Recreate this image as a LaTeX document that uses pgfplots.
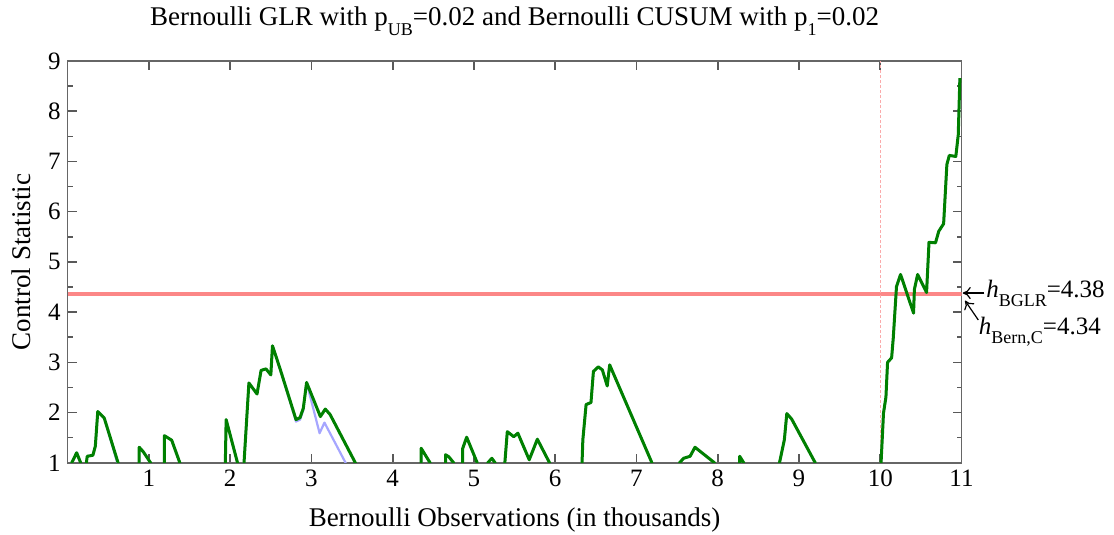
\documentclass[border=0pt]{standalone}
\usepackage{fontspec}
\setmainfont{Liberation Serif}
\usepackage{pgfplots}
\usepackage{pgfplotstable}
\pgfplotsset{compat=1.18}
\usetikzlibrary{arrows.meta}

\definecolor{limitred}{RGB}{252,135,135}
\definecolor{changepink}{RGB}{250,170,170}

% lowered subscript in text
\newcommand{\lowsub}[2][4.5pt]{\raisebox{-#1}{\fontsize{9}{10}\selectfont #2}}

% control statistics (x in thousands of observations)
\pgfplotstableread{
x y
0.00 0
0.05 0
0.05 1
0.11 1.20
0.16 1
0.16 0
0.23 0
0.23 1
0.24 1.13
0.31 1.15
0.34 1.33
0.37 2.02
0.45 1.89
0.62 1
0.62 0
0.88 0
0.88 1
0.88 1.31
0.93 1.22
1.02 1
1.02 0
1.19 0
1.19 1
1.19 1.54
1.28 1.45
1.38 1
1.38 0
1.94 0
1.94 1
1.95 1.86
2.09 1
2.09 0
2.17 0
2.17 1
2.23 2.59
2.33 2.37
2.38 2.84
2.44 2.87
2.50 2.75
2.52 3.33
2.61 2.89
2.81 1.86
2.86 1.90
2.90 2.09
2.94 2.60
3.11 1.92
3.17 2.07
3.23 1.96
3.54 1
3.54 0
4.35 0
4.35 1
4.35 1.29
4.46 1
4.46 0
4.65 0
4.65 1
4.65 1.16
4.69 1.12
4.75 1
4.75 0
4.86 0
4.86 1
4.86 1.28
4.91 1.51
5.04 1
5.04 0
5.17 0
5.17 1
5.22 1.09
5.26 1
5.26 0
5.38 0
5.38 1
5.41 1.62
5.49 1.52
5.54 1.59
5.68 1.06
5.78 1.47
5.93 1
5.93 0
6.33 0
6.33 1
6.34 1.46
6.38 2.16
6.44 2.20
6.47 2.82
6.53 2.91
6.58 2.85
6.64 2.53
6.67 2.95
7.19 1
7.19 0
7.53 0
7.53 1
7.58 1.09
7.66 1.13
7.72 1.31
7.96 1
7.96 0
8.27 0
8.27 1
8.27 1.13
8.32 1
8.32 0
8.76 0
8.76 1
8.82 1.46
8.85 1.98
8.91 1.87
9.20 1
9.20 0
10.01 0
10.01 1
10.04 1.99
10.07 2.31
10.09 3.00
10.14 3.09
10.16 3.48
10.20 4.51
10.25 4.75
10.41 3.98
10.42 4.45
10.46 4.75
10.57 4.39
10.60 5.39
10.68 5.38
10.72 5.61
10.78 5.76
10.82 6.94
10.85 7.12
10.93 7.10
10.96 7.53
10.98 8.66
}\glrstat

\pgfplotstableread{
x y
0.00 0
0.05 0
0.05 1
0.11 1.20
0.16 1
0.16 0
0.23 0
0.23 1
0.24 1.13
0.31 1.15
0.34 1.33
0.37 2.02
0.45 1.89
0.61 1
0.61 0
0.88 0
0.88 1
0.88 1.31
0.93 1.22
1.02 1
1.02 0
1.19 0
1.19 1
1.19 1.54
1.28 1.45
1.38 1
1.38 0
1.94 0
1.94 1
1.95 1.86
2.09 1
2.09 0
2.17 0
2.17 1
2.23 2.59
2.33 2.37
2.38 2.84
2.44 2.87
2.50 2.75
2.52 3.33
2.61 2.89
2.81 1.82
2.86 1.86
2.90 2.05
2.94 2.60
3.10 1.59
3.16 1.80
3.42 1
3.42 0
4.35 0
4.35 1
4.35 1.29
4.46 1
4.46 0
4.65 0
4.65 1
4.65 1.16
4.69 1.12
4.75 1
4.75 0
4.86 0
4.86 1
4.86 1.28
4.91 1.51
5.04 1
5.04 0
5.17 0
5.17 1
5.22 1.09
5.26 1
5.26 0
5.38 0
5.38 1
5.41 1.62
5.49 1.52
5.54 1.59
5.68 1.06
5.78 1.47
5.93 1
5.93 0
6.33 0
6.33 1
6.34 1.46
6.38 2.16
6.44 2.20
6.47 2.82
6.53 2.91
6.58 2.85
6.64 2.53
6.67 2.95
7.19 1
7.19 0
7.53 0
7.53 1
7.58 1.09
7.66 1.13
7.72 1.31
7.96 1
7.96 0
8.27 0
8.27 1
8.27 1.13
8.32 1
8.32 0
8.76 0
8.76 1
8.82 1.46
8.85 1.98
8.91 1.87
9.20 1
9.20 0
10.01 0
10.01 1
10.04 1.99
10.07 2.31
10.09 3.00
10.14 3.09
10.16 3.48
10.20 4.51
10.25 4.75
10.41 3.98
10.42 4.45
10.46 4.75
10.57 4.39
10.60 5.39
10.68 5.38
10.72 5.61
10.78 5.76
10.82 6.94
10.85 7.12
10.93 7.10
10.96 7.53
10.98 8.66
}\cusumstat

\begin{document}
\begin{tikzpicture}
\path[use as bounding box] (-33.85pt,-36.1pt) rectangle (523.15pt,231.4pt);
\begin{axis}[
  scale only axis,
  width=446.9pt, height=200.9pt,
  xmin=0, xmax=11, ymin=1, ymax=9,
  xtick={1,...,11}, ytick={1,...,9},
  minor y tick num=1,
  tick align=inside,
  xtick pos=both, ytick pos=both,
  major tick length=4.5pt, minor tick length=2.5pt,
  axis line style={black!60, line width=0.8pt},
  every tick/.style={black!65, line width=0.8pt},
  /pgf/number format/assume math mode=true,
  ticklabel style={font=\fontsize{12.5}{15}\selectfont},
  label style={font=\fontsize{13.5}{16}\selectfont},
  title style={font=\fontsize{13.5}{16}\selectfont, at={(rel axis cs:0.5,1)}, anchor=base, yshift=12pt},
  xlabel style={at={(rel axis cs:0.5,0)}, anchor=base, yshift=-32pt},
  ylabel style={at={(rel axis cs:0,0.5)}, anchor=center, rotate=0, yshift=23pt},
  title={Bernoulli GLR with p\lowsub[5pt]{UB}=0.02 and Bernoulli CUSUM with p\lowsub[5pt]{1}=0.02},
  xlabel={Bernoulli Observations (in thousands)},
  ylabel={Control Statistic},
  clip mode=individual,
]
% control limits and change point
\addplot[draw=limitred, line width=0.6pt] coordinates {(0,4.38) (11,4.38)};
\addplot[draw=limitred, line width=0.6pt] coordinates {(0,4.34) (11,4.34)};
\addplot[draw=changepink, line width=0.6pt, dash pattern=on 1.5pt off 1pt] coordinates {(10,1) (10,9)};
% statistics
\addplot[blue!35, line width=1.1pt, line join=round] table {\cusumstat};
\addplot[green!50!black, line width=1.5pt, line join=round] table {\glrstat};
% threshold annotations
\draw[-{To[length=4pt,width=6pt]}, line width=0.6pt] (axis cs:11.28,4.38) -- (axis cs:11.015,4.38);
\node[anchor=base west, inner sep=0pt, font=\fontsize{12.5}{14}\selectfont] at (axis cs:11.30,4.295) {\textit{h}\lowsub{BGLR}=4.38};
\draw[-{To[length=4pt,width=6pt]}, line width=0.6pt] (axis cs:11.207,3.843) -- (axis cs:11.044,4.228);
\node[anchor=base west, inner sep=0pt, font=\fontsize{12.5}{14}\selectfont] at (axis cs:11.21,3.545) {\textit{h}\lowsub{Bern,C}=4.34};
\end{axis}
\end{tikzpicture}
\end{document}
